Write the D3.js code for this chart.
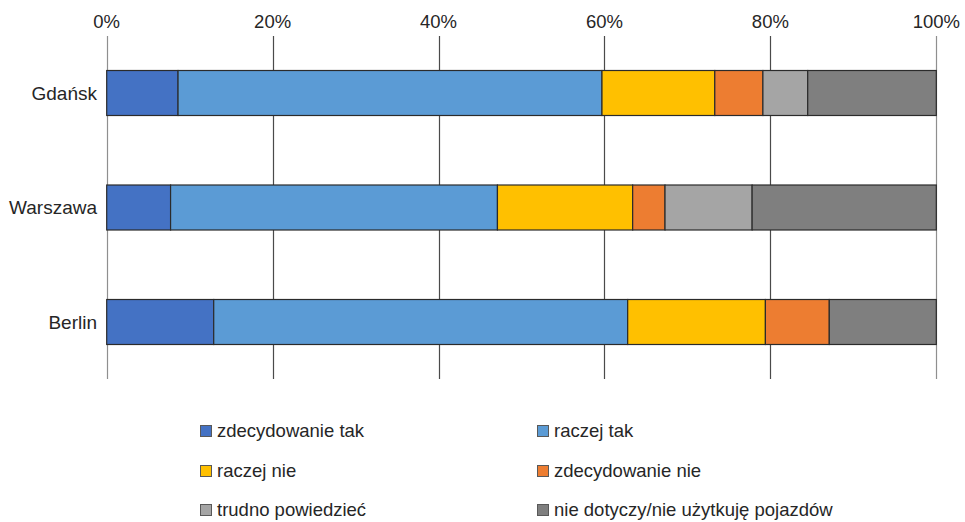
<!DOCTYPE html>
<html>
<head>
<meta charset="utf-8">
<script src="https://cdn.jsdelivr.net/npm/d3@7"></script>
<style>
  html, body { margin: 0; padding: 0; background: #fff; }
  svg { display: block; font-family: "Liberation Sans", Arial, sans-serif; }
</style>
</head>
<body>
<svg id="chart" width="965" height="522"></svg>
<script>
const categories = ["Gdańsk", "Warszawa", "Berlin"];
const seriesNames = ["zdecydowanie tak", "raczej tak", "raczej nie", "zdecydowanie nie", "trudno powiedzieć", "nie dotyczy/nie użytkuję pojazdów"];
const seriesColors = ["#4472C4", "#5B9BD5", "#FFC000", "#ED7D31", "#A5A5A5", "#7F7F7F"];
const zdecydowanieTak = [8.6, 7.7, 12.9];
const raczejTak = [51.1, 39.4, 49.9];
const raczejNie = [13.6, 16.3, 16.6];
const zdecydowanieNie = [5.8, 3.9, 7.7];
const trudnoPowiedziec = [5.4, 10.5, 0];
const nieDotyczy = [15.5, 22.2, 12.9];
const tickValues = [0, 20, 40, 60, 80, 100];

const seriesValues = [zdecydowanieTak, raczejTak, raczejNie, zdecydowanieNie, trudnoPowiedziec, nieDotyczy];
const rows = categories.map((c, i) => {
  const r = { cat: c };
  seriesNames.forEach((s, j) => r[s] = seriesValues[j][i]);
  return r;
});

const svg = d3.select("#chart");
const x = d3.scaleLinear().domain([0, 100]).range([106.7, 936.3]);
const y = d3.scaleBand().domain(categories).range([35.75, 379.25]).paddingInner(0.607).paddingOuter(0.3035);

// gridlines
svg.append("g").selectAll("line").data(tickValues).join("line")
  .attr("x1", d => Math.round(x(d)) + 0.5).attr("x2", d => Math.round(x(d)) + 0.5)
  .attr("y1", 36).attr("y2", 379)
  .attr("stroke", d => (d === 0 || d === 100) ? "#8f8f8f" : "#4a4a4a")
  .attr("stroke-width", 1.2);

// tick labels
svg.append("g").selectAll("text").data(tickValues).join("text")
  .attr("x", d => x(d)).attr("y", 28)
  .attr("text-anchor", "middle")
  .attr("font-size", 18.5).attr("fill", "#262626")
  .text(d => d + "%");

// stacked bars
const stack = d3.stack().keys(seriesNames)(rows);
svg.append("g").selectAll("g").data(stack).join("g")
  .attr("fill", (d, i) => seriesColors[i])
  .selectAll("rect").data(d => d.filter(p => p[1] - p[0] > 0)).join("rect")
  .attr("x", d => x(d[0])).attr("width", d => x(d[1]) - x(d[0]))
  .attr("y", d => y(d.data.cat)).attr("height", y.bandwidth())
  .attr("stroke", "#2b2b2b").attr("stroke-width", 1.2);

// category labels
svg.append("g").selectAll("text").data(categories).join("text")
  .attr("x", 97).attr("y", d => y(d) + y.bandwidth() / 2)
  .attr("dy", "0.35em")
  .attr("text-anchor", "end")
  .attr("font-size", 19).attr("fill", "#262626")
  .text(d => d);

// legend
const legX = [200, 537];
const legY = [431, 471, 510];
const leg = svg.append("g").selectAll("g").data(seriesNames).join("g")
  .attr("transform", (d, i) => `translate(${legX[i % 2]},${legY[Math.floor(i / 2)]})`);
leg.append("rect")
  .attr("x", 0.5).attr("y", -5.5).attr("width", 11).attr("height", 11)
  .attr("fill", (d, i) => seriesColors[i])
  .attr("stroke", "#595959").attr("stroke-width", 1);
leg.append("text")
  .attr("x", 17).attr("y", 0).attr("dy", "0.35em")
  .attr("font-size", 18.5).attr("fill", "#262626")
  .text(d => d);
</script>
</body>
</html>
